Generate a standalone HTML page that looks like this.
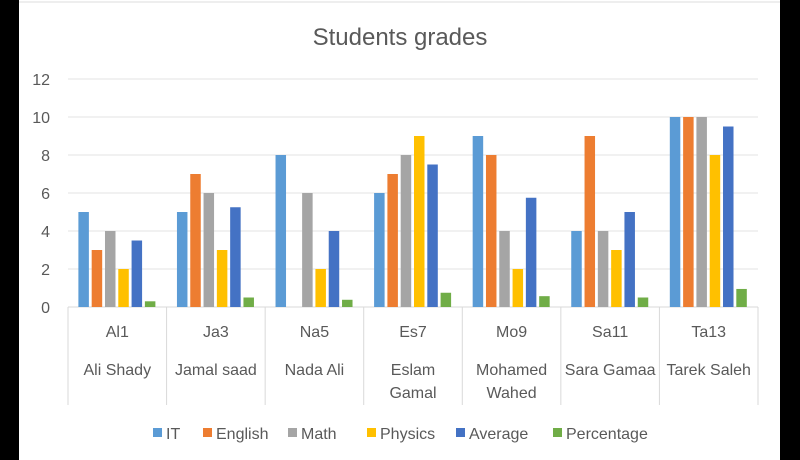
<!DOCTYPE html>
<html><head><meta charset="utf-8"><style>
body{margin:0;width:800px;height:460px;background:#000;overflow:hidden;font-family:"Liberation Sans",sans-serif}
</style></head><body>
<svg width="800" height="460" style="position:absolute;left:0;top:0">
<rect x="19" y="0" width="761" height="460" fill="#fff"/>
<line x1="19" y1="2" x2="780" y2="2" stroke="#ddd"/>
<text x="400" y="45" text-anchor="middle" font-size="24" fill="#595959">Students grades</text>
<g id="grid"></g><g id="bars"></g><g id="cats"></g><g id="legend"></g>
</svg>
<script>
const codes=["Al1","Ja3","Na5","Es7","Mo9","Sa11","Ta13"];
const names=[["Ali Shady"],["Jamal saad"],["Nada Ali"],["Eslam","Gamal"],["Mohamed","Wahed"],["Sara Gamaa"],["Tarek Saleh"]];
const seriesNames=["IT","English","Math","Physics","Average","Percentage"];
const colors=["#5b9bd5","#ed7d31","#a5a5a5","#ffc000","#4472c4","#70ad47"];
const IT=[5,5,8,6,9,4,10];
const English=[3,7,0,7,8,9,10];
const Mathv=[4,6,6,8,4,4,10];
const Physics=[2,3,2,9,2,3,8];
const Average=[3.5,5.25,4,7.5,5.75,5,9.5];
const Percentage=[0.3,0.5,0.38,0.75,0.57,0.5,0.95];
const ticks=[0,2,4,6,8,10,12];
const series=[IT,English,Mathv,Physics,Average,Percentage];
const NS="http://www.w3.org/2000/svg";
const x0=68,x1=758,y0=307,yTop=79,vmax=12;
const y=v=>y0-(y0-yTop)*v/vmax;
const gw=(x1-x0)/codes.length;
function mk(t,a,p){const e=document.createElementNS(NS,t);for(const k in a)e.setAttribute(k,a[k]);p.appendChild(e);return e;}
const grid=document.getElementById('grid');
ticks.forEach(t=>{
 const l=mk('line',{x1:x0,x2:x1,y1:y(t),y2:y(t),stroke:t===0?'#d9d9d9':'#e3e3e3'},grid);
 
 
 const tx=mk('text',{x:50,y:y(t)+6,'text-anchor':'end','font-size':16,fill:'#595959'},grid);
 tx.textContent=t;
 
 
});
const bars=document.getElementById('bars');
const bw=10.5,step=13.3;
codes.forEach((c,i)=>{
 const gx=x0+i*gw+(gw-step*6)/2+1;
 series.forEach((s,j)=>{
  const v=s[i];
  const r=mk('rect',{x:gx+j*step,y:y(v),width:bw,height:y0-y(v),fill:colors[j]},bars);
  
  
 });
});
const cats=document.getElementById('cats');
for(let i=0;i<=codes.length;i++){
 const l=mk('line',{x1:x0+i*gw,x2:x0+i*gw,y1:y0,y2:405,stroke:'#d9d9d9'},cats);
 
 
}
codes.forEach((c,i)=>{
 const cx=x0+i*gw+gw/2;
 const t=mk('text',{x:cx,y:337,'text-anchor':'middle','font-size':16,fill:'#595959'},cats);
 t.textContent=c;
 
 
 names[i].forEach((n,k)=>{
  const t2=mk('text',{x:cx,y:375+k*23,'text-anchor':'middle','font-size':16,fill:'#595959'},cats);
  t2.textContent=n;
  
  
 });
});
const lg=document.getElementById('legend');
const lx=[153,203,288,367,456,553];
seriesNames.forEach((n,j)=>{
 const r=mk('rect',{x:lx[j],y:428,width:9,height:9,fill:colors[j]},lg);
 
 
 const t=mk('text',{x:lx[j]+13,y:439,'font-size':16,fill:'#595959'},lg);
 t.textContent=n;
 
 
});
</script>
</body></html>
